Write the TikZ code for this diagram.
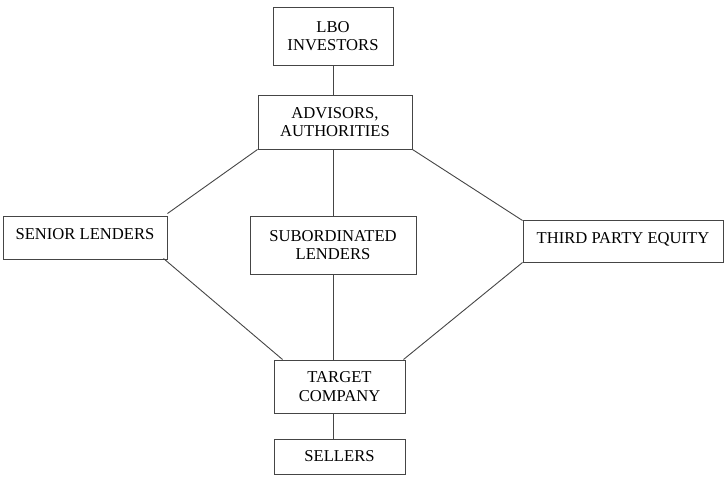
\documentclass[tikz,border=0pt]{standalone}
\usepackage{fontspec}
\setmainfont{Liberation Serif}
\usetikzlibrary{calc}
\definecolor{edge}{HTML}{454545}
\begin{document}
\begin{tikzpicture}[x=1pt,y=-1pt,
  box/.style={draw=edge,line width=1pt,inner sep=0pt,align=center,
    font=\fontsize{16.6}{18.5}\selectfont,text=black},
  link/.style={draw=edge,line width=0.9pt}]
\useasboundingbox (0,0) rectangle (728,482);
\node[box,minimum width=120pt,minimum height=58pt] (lbo) at (333,36) {LBO\\INVESTORS};
\node[box,minimum width=154pt,minimum height=54pt] (adv) at (335,122) {ADVISORS,\\AUTHORITIES};
\node[box,minimum width=164pt,minimum height=43pt,text depth=6pt] (sen) at (85,237.5) {SENIOR LENDERS};
\node[box,minimum width=166pt,minimum height=58pt] (sub) at (333,245) {SUBORDINATED\\LENDERS};
\node[box,minimum width=200pt,minimum height=42pt,text depth=5pt] (tpe) at (623,241) {THIRD PARTY EQUITY};
\node[box,minimum width=131pt,minimum height=53pt] (tgt) at (339.5,386.5) {TARGET\\COMPANY};
\node[box,minimum width=131pt,minimum height=35pt] (sel) at (339.5,456.5) {SELLERS};
\draw[link] (lbo.south) -- (lbo.south |- adv.north);
\draw[link] (adv.south west) -- ($(sen.north east)+(0,-2)$);
\draw[link] (sub.north |- adv.south) -- (sub.north);
\draw[link] (adv.south east) -- ($(tpe.north west)+(0,1)$);
\draw[link] ($(sen.south east)+(-4,-1)$) -- ($(tgt.north west)+(9,0)$);
\draw[link] (sub.south) -- (sub.south |- tgt.north);
\draw[link] (tpe.south west) -- ($(tgt.north east)+(-2,0)$);
\draw[link] (tgt.south -| sub.south) -- (sel.north -| sub.south);
\end{tikzpicture}
\end{document}
